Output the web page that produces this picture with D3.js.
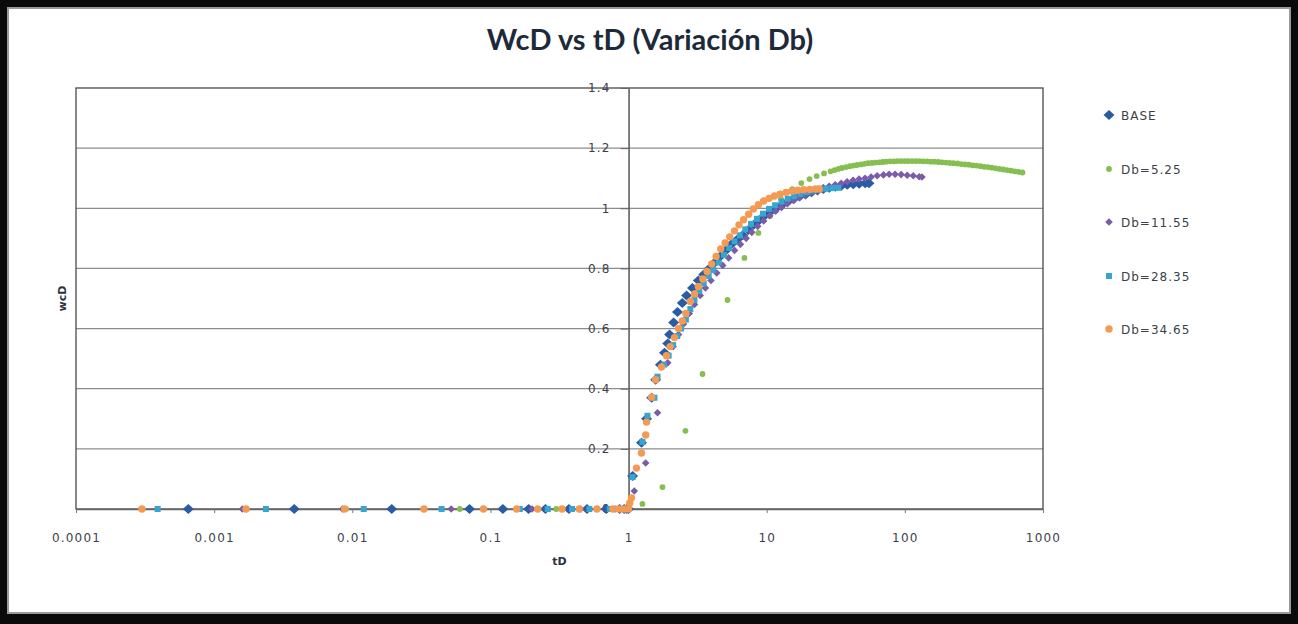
<!DOCTYPE html>
<html>
<head>
<meta charset="utf-8">
<script src="https://cdn.jsdelivr.net/npm/d3@7/dist/d3.min.js"></script>
<style>
  html, body { margin: 0; padding: 0; background: #000; }
  svg { display: block; }
</style>
</head>
<body>
<svg id="chart" width="1298" height="624"></svg>
<script>
// ---- chart data ----
const chartTitle = "WcD vs tD (Variación Db)";
const xTickValues = [0.0001, 0.001, 0.01, 0.1, 1, 10, 100, 1000];
const xTickLabels = ["0.0001", "0.001", "0.01", "0.1", "1", "10", "100", "1000"];
const yTickValues = [0, 0.2, 0.4, 0.6, 0.8, 1, 1.2, 1.4];
const yTickLabels = ["0", "0.2", "0.4", "0.6", "0.8", "1", "1.2", "1.4"];
const seriesNames = ["BASE", "Db=5.25", "Db=11.55", "Db=28.35", "Db=34.65"];

// BASE
const baseTD = [0.00065, 0.0038, 0.0193, 0.0706, 0.123, 0.189, 0.25, 0.37, 0.5, 0.69, 0.86, 0.93, 0.97, 1.0,
  1.07, 1.24, 1.35, 1.47, 1.57, 1.70, 1.82, 1.92, 1.98, 2.12, 2.26, 2.45, 2.63, 2.9, 3.2, 3.5, 3.85,
  4.2, 4.6, 5.05, 5.55, 6.1, 6.7, 7.35, 8.05, 8.8, 9.65, 10.6, 11.7, 12.9, 14.2, 15.7, 17.3, 19.1,
  21.1, 23.3, 25.7, 28.4, 31.4, 34.7, 38.3, 42.3, 46.7, 51.6, 55];
const baseWD = [0, 0, 0, 0, 0, 0, 0, 0, 0, 0, 0, 0, 0, 0,
  0.11, 0.22, 0.30, 0.37, 0.43, 0.48, 0.52, 0.55, 0.58, 0.62, 0.655, 0.685, 0.71, 0.735, 0.76, 0.78, 0.80,
  0.82, 0.84, 0.86, 0.88, 0.895, 0.91, 0.928, 0.945, 0.96, 0.975, 0.988, 1.0, 1.012, 1.022, 1.031, 1.039, 1.046,
  1.053, 1.059, 1.064, 1.068, 1.072, 1.075, 1.078, 1.08, 1.082, 1.083, 1.083];

// Db=5.25
const db525TD = [0.009, 0.06, 0.3, 0.85, 1.26, 1.76, 2.58, 3.43, 5.2, 6.9, 8.7, 10.6, 12.7,
  15.3, 17.8, 20.4, 23, 26, 29, 31, 33, 35, 37.5, 40, 42.5, 45, 48, 51, 54, 57.5, 61, 65, 69, 73,
  78, 83, 88, 94, 100, 106, 113, 120, 128, 136, 145, 154, 164, 175, 186, 198, 211, 225, 240, 256,
  273, 291, 310, 330, 352, 375, 400, 426, 454, 484, 516, 550, 586, 624, 665, 710];
const db525WD = [0, 0, 0, 0, 0.017, 0.073, 0.26, 0.449, 0.695, 0.835, 0.918, 0.974, 1.03,
  1.064, 1.084, 1.097, 1.107, 1.116, 1.123, 1.127, 1.131, 1.134, 1.137, 1.14, 1.142, 1.144, 1.146, 1.148, 1.15, 1.151, 1.152, 1.153, 1.154, 1.155,
  1.156, 1.156, 1.157, 1.157, 1.157, 1.157, 1.157, 1.157, 1.157, 1.156, 1.156, 1.155, 1.155, 1.154, 1.153, 1.152, 1.151, 1.15, 1.149, 1.147,
  1.146, 1.145, 1.143, 1.142, 1.14, 1.138, 1.137, 1.135, 1.133, 1.131, 1.129, 1.127, 1.125, 1.123, 1.121, 1.119];

// Db=11.55
const db1155TD = [0.0016, 0.0085, 0.052, 0.2, 0.45, 0.8,
  1.1, 1.33, 1.62, 1.92, 2.1, 2.3, 2.5, 2.75, 3.0, 3.3, 3.6, 3.95, 4.35, 4.8, 5.3, 5.85, 6.45, 7.1,
  7.8, 8.6, 9.5, 10.5, 11.6, 12.8, 14.1, 15.6, 17.2, 19.0, 21, 23.2, 25.6, 28.3, 31.3, 34.6, 38.2,
  42.2, 46.6, 51.5, 57, 63, 70, 77, 85, 94, 104, 115, 127, 133];
const db1155WD = [0, 0, 0, 0, 0, 0,
  0.06, 0.153, 0.32, 0.486, 0.54, 0.58, 0.615, 0.65, 0.68, 0.71, 0.735, 0.76, 0.785, 0.81, 0.835, 0.86, 0.88, 0.9,
  0.92, 0.94, 0.958, 0.975, 0.99, 1.003, 1.015, 1.026, 1.036, 1.045, 1.053, 1.06, 1.066, 1.072, 1.078, 1.083, 1.088,
  1.093, 1.097, 1.1, 1.104, 1.108, 1.111, 1.113, 1.113, 1.112, 1.11, 1.108, 1.105, 1.104];

// Db=28.35
const db2835TD = [0.00039, 0.00237, 0.0121, 0.0443, 0.163, 0.26, 0.39, 0.52, 0.73, 0.9, 0.97,
  1.07, 1.26, 1.37, 1.54, 1.62, 1.8, 1.95, 2.1, 2.25, 2.4, 2.6, 2.8, 3.0, 3.25, 3.5, 3.8, 4.1, 4.5,
  4.9, 5.35, 5.85, 6.4, 7.0, 7.7, 8.5, 9.4, 10.4, 11.5, 12.8, 14.2, 15.8, 17.6, 19.6, 21.8, 24.3,
  27, 30, 33];
const db2835WD = [0, 0, 0, 0, 0, 0, 0, 0, 0, 0, 0,
  0.106, 0.223, 0.31, 0.37, 0.44, 0.48, 0.51, 0.545, 0.575, 0.60, 0.63, 0.665, 0.695, 0.725, 0.75, 0.775, 0.795, 0.82,
  0.845, 0.868, 0.89, 0.91, 0.93, 0.948, 0.965, 0.982, 0.998, 1.01, 1.022, 1.032, 1.04, 1.048, 1.054, 1.059, 1.063,
  1.065, 1.067, 1.068];

// Db=34.65
const db3465TD = [0.0003, 0.0017, 0.0088, 0.033, 0.089, 0.155, 0.22, 0.33, 0.44, 0.59, 0.77, 0.85, 0.94, 1.0,
  1.02, 1.05, 1.14, 1.24, 1.33, 1.35, 1.47, 1.57, 1.73, 1.88, 2.0, 2.15, 2.3, 2.45, 2.6, 2.8, 3.0,
  3.2, 3.45, 3.7, 4.0, 4.3, 4.65, 5.0, 5.4, 5.85, 6.3, 6.8, 7.4, 8.0, 8.7, 9.5, 10.4, 11.4, 12.5,
  13.8, 15.2, 16.8, 18.5, 20.5, 22.5, 24];
const db3465WD = [0, 0, 0, 0, 0, 0, 0, 0, 0, 0, 0, 0, 0, 0,
  0.02, 0.037, 0.136, 0.186, 0.246, 0.289, 0.372, 0.43, 0.472, 0.51, 0.54, 0.57, 0.60, 0.625, 0.65, 0.69, 0.715,
  0.74, 0.765, 0.79, 0.815, 0.84, 0.865, 0.885, 0.905, 0.925, 0.945, 0.962, 0.98, 0.998, 1.012, 1.024, 1.033, 1.041, 1.047,
  1.053, 1.057, 1.06, 1.062, 1.063, 1.064, 1.064];

// ---- drawing ----
const svg = d3.select("#chart");
const W = 1298, H = 624;

// framed page
svg.append("rect").attr("x", 0).attr("y", 0).attr("width", W).attr("height", H).attr("fill", "#0a0a0a");
svg.append("rect").attr("x", 8).attr("y", 8).attr("width", 1282).attr("height", 605)
  .attr("fill", "#ffffff").attr("stroke", "#9a9a9a").attr("stroke-width", 2);

const x = d3.scaleLog().domain([1e-4, 1e3]).range([76, 1043]);
const y = d3.scaleLinear().domain([0, 1.4]).range([509, 88]);

// gridlines
svg.append("g").selectAll("line").data(yTickValues.filter(v => v > 0 && v < 1.4)).join("line")
  .attr("x1", x.range()[0]).attr("x2", x.range()[1])
  .attr("y1", d => y(d)).attr("y2", d => y(d))
  .attr("stroke", "#8c8c8c").attr("stroke-width", 1.3);

// plot area border
svg.append("rect").attr("x", x.range()[0]).attr("y", y(1.4))
  .attr("width", x.range()[1] - x.range()[0]).attr("height", y(0) - y(1.4))
  .attr("fill", "none").attr("stroke", "#4a4a4a").attr("stroke-width", 1.3);

// x axis along wD = 0
const xAxis = d3.axisBottom(x).tickValues(xTickValues).tickSize(4).tickSizeOuter(0)
  .tickFormat((d, i) => xTickLabels[i]);
const gx = svg.append("g").attr("transform", `translate(0,${y(0)})`).call(xAxis);
gx.select(".domain").attr("stroke", "#666").attr("stroke-width", 1.3);
gx.selectAll(".tick line").attr("stroke", "#777");
gx.selectAll(".tick text").attr("dy", "0").attr("y", 33)
  .attr("font-family", "DejaVu Sans").attr("font-size", 12).attr("letter-spacing", 1.2)
  .attr("fill", "#3c3f4a");

// y axis crossing at tD = 1
const yAxis = d3.axisLeft(y).tickValues(yTickValues).tickSize(8).tickSizeOuter(0)
  .tickFormat((d, i) => yTickLabels[i]);
const gy = svg.append("g").attr("transform", `translate(${x(1)},0)`).call(yAxis);
gy.select(".domain").attr("stroke", "#555").attr("stroke-width", 1.5);
gy.selectAll(".tick line").attr("stroke", "#666");
gy.selectAll(".tick text").attr("x", -18)
  .attr("font-family", "DejaVu Sans").attr("font-size", 12).attr("letter-spacing", 1.2)
  .attr("fill", "#3c3f4a");

// titles
svg.append("text").attr("x", 650).attr("y", 50).attr("text-anchor", "middle")
  .attr("font-family", "Lato").attr("font-weight", "bold").attr("font-size", 29)
  .attr("fill", "#1e2a3a").text(chartTitle);
svg.append("text").attr("x", (x.range()[0] + x.range()[1]) / 2).attr("y", 565).attr("text-anchor", "middle")
  .attr("font-family", "DejaVu Sans").attr("font-weight", "bold").attr("font-size", 11)
  .attr("fill", "#2c3040").text("tD");
svg.append("text").attr("transform", `translate(66,${(y(0) + y(1.4)) / 2}) rotate(-90)`)
  .attr("text-anchor", "middle")
  .attr("font-family", "DejaVu Sans").attr("font-weight", "bold").attr("font-size", 11)
  .attr("fill", "#2c3040").text("wcD");

// marker shapes
function diamondPath(cx, cy, hw, hh) {
  return `M${cx},${cy - hh}L${cx + hw},${cy}L${cx},${cy + hh}L${cx - hw},${cy}Z`;
}
const seriesStyles = [
  { td: baseTD, wd: baseWD, color: "#2a5ca6", shape: "diamond", hw: 5.5, hh: 5 },
  { td: db525TD, wd: db525WD, color: "#86be50", shape: "circle", r: 2.9 },
  { td: db1155TD, wd: db1155WD, color: "#7a5ca8", shape: "diamond", hw: 3.8, hh: 3.8 },
  { td: db2835TD, wd: db2835WD, color: "#37a5cf", shape: "square", s: 6 },
  { td: db3465TD, wd: db3465WD, color: "#f59a52", shape: "circle", r: 3.7 }
];

function drawMarker(g, s, cx, cy) {
  if (s.shape === "diamond") {
    g.append("path").attr("d", diamondPath(cx, cy, s.hw, s.hh)).attr("fill", s.color);
  } else if (s.shape === "circle") {
    g.append("circle").attr("cx", cx).attr("cy", cy).attr("r", s.r).attr("fill", s.color);
  } else {
    g.append("rect").attr("x", cx - s.s / 2).attr("y", cy - s.s / 2)
      .attr("width", s.s).attr("height", s.s).attr("fill", s.color);
  }
}

seriesStyles.forEach(s => {
  const g = svg.append("g");
  s.td.forEach((t, i) => drawMarker(g, s, x(t), y(s.wd[i])));
});

// legend
const legendY = [115, 169, 222, 276, 329];
const lg = svg.append("g");
seriesNames.forEach((name, i) => {
  drawMarker(lg, seriesStyles[i], 1109, legendY[i]);
  lg.append("text").attr("x", 1121).attr("y", legendY[i] + 4.5)
    .attr("font-family", "DejaVu Sans").attr("font-size", 12).attr("letter-spacing", 1)
    .attr("fill", "#3c3f4a").text(name);
});
</script>
</body>
</html>
